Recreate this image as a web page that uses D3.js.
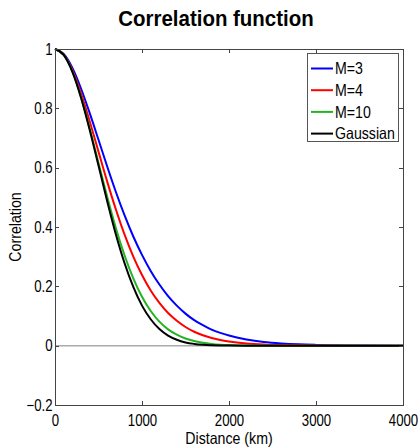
<!DOCTYPE html>
<html>
<head>
<meta charset="utf-8">
<script src="https://cdn.jsdelivr.net/npm/d3@7"></script>
<style>
body { margin:0; background:#fff; }
svg { display:block; }
text { font-family: "Liberation Sans", Arial, sans-serif; fill:#000; }
</style>
</head>
<body>
<svg class="chart" width="420" height="448"></svg>
<script>
// values (distance in km)
var distance = [0,100,200,300,400,500,600,700,800,900,1000,1100,1200,1300,1400,1500,
                1600,1700,1800,1900,2000,2200,2400,2600,2800,3000,3500,4000];
var m3 = [1,0.983,0.936,0.866,0.783,0.694,0.604,0.518,0.439,0.368,0.306,0.252,0.206,0.167,0.135,0.108,
          0.086,0.069,0.054,0.043,0.034,0.021,0.0125,0.0075,0.0044,0.0026,0.0006,0.0001];
var m4 = [1,0.981,0.929,0.850,0.755,0.654,0.553,0.459,0.374,0.300,0.238,0.186,0.144,0.110,0.084,0.063,
          0.047,0.035,0.026,0.019,0.014,0.0074,0.0038,0.0020,0.0010,0.0005,0.0001,0];
var m10 = [1,0.980,0.924,0.837,0.731,0.616,0.502,0.396,0.304,0.227,0.165,0.117,0.081,0.055,0.037,0.024,
           0.016,0.010,0.006,0.0035,0.002,0.0007,0.0002,0,0,0,0,0];
var gaussian = [1,0.980,0.923,0.835,0.726,0.607,0.487,0.375,0.278,0.198,0.135,0.089,0.056,0.034,0.020,0.011,
                0.006,0.003,0.0015,0.0007,0.0003,0,0,0,0,0,0,0];
var seriesNames = ["M=3","M=4","M=10","Gaussian"];
var seriesColors = ["#0000ff","#ff0000","#22b422","#000000"];
var xTicks = [0,1000,2000,3000,4000];
var yTicks = [-0.2,0,0.2,0.4,0.6,0.8,1];
var yTickLabels = ["\u22120.2","0","0.2","0.4","0.6","0.8","1"];

var plot = {left: 55, right: 403, top: 49, bottom: 405};
var chart = d3.select(".chart");

var x = d3.scaleLinear().domain([0,4000]).range([plot.left, plot.right]);
var y = d3.scaleLinear().domain([-0.2,1]).range([plot.bottom, plot.top]);

// zero line
chart.append("line")
    .attr("x1", x(0)).attr("x2", x(4000))
    .attr("y1", y(0)).attr("y2", y(0))
    .attr("stroke", "#aaaaaa")
    .attr("stroke-width", 1.5);

var allSeries = [m3, m4, m10, gaussian];
var line = d3.line()
    .x(function(d, i){ return x(distance[i]); })
    .y(function(d){ return y(d); })
    .curve(d3.curveMonotoneX);

chart.selectAll(".curve")
    .data(allSeries)
    .enter()
    .append("path")
    .attr("class", "curve")
    .attr("d", line)
    .attr("fill", "none")
    .attr("stroke", function(d, i){ return seriesColors[i]; })
    .attr("stroke-width", 2);

// axes, ticks point inwards like matlab
function styleAxis(g){
  g.select(".domain").remove();
  g.selectAll(".tick line").attr("stroke", "#444").attr("shape-rendering", "crispEdges");
}
var xaxis = chart.append("g")
    .attr("transform", "translate(0," + plot.bottom + ")")
    .call(d3.axisBottom(x).tickValues(xTicks).tickSize(-4).tickFormat(d3.format("d")));
styleAxis(xaxis);
xaxis.selectAll("text")
    .attr("y", 21).attr("dy", 0)
    .attr("font-size", "16.5px")
    .attr("font-family", null)
    .attr("transform", "scale(0.8,1)");

var yaxis = chart.append("g")
    .attr("transform", "translate(" + plot.left + ",0)")
    .call(d3.axisLeft(y).tickValues(yTicks).tickSize(-4)
      .tickFormat(function(d, i){ return yTickLabels[i]; }));
styleAxis(yaxis);
yaxis.selectAll("text")
    .attr("x", -3)
    .attr("font-size", "16.5px")
    .attr("font-family", null)
    .attr("transform", "scale(0.8,1)");

var topaxis = chart.append("g")
    .attr("transform", "translate(0," + plot.top + ")")
    .call(d3.axisTop(x).tickValues(xTicks).tickSize(-4).tickFormat(""));
styleAxis(topaxis);
var rightaxis = chart.append("g")
    .attr("transform", "translate(" + plot.right + ",0)")
    .call(d3.axisRight(y).tickValues(yTicks).tickSize(-4).tickFormat(""));
styleAxis(rightaxis);

chart.append("rect")
    .attr("x", plot.left).attr("y", plot.top)
    .attr("width", plot.right - plot.left)
    .attr("height", plot.bottom - plot.top)
    .attr("fill", "none")
    .attr("stroke", "#444")
    .attr("shape-rendering", "crispEdges");

// legend
var legend = chart.append("g");
legend.append("rect")
    .attr("x", 307).attr("y", 53)
    .attr("width", 91).attr("height", 88)
    .attr("fill", "#fff")
    .attr("stroke", "#555")
    .attr("shape-rendering", "crispEdges");
var items = legend.selectAll(".item")
    .data(seriesNames)
    .enter()
    .append("g")
    .attr("transform", function(d, i){ return "translate(311," + (68.5 + i * 21.7) + ")"; });
items.append("line")
    .attr("x1", 0).attr("x2", 22)
    .attr("stroke", function(d, i){ return seriesColors[i]; })
    .attr("stroke-width", 2);
items.append("text")
    .attr("transform", "translate(24,0) scale(0.87,1)")
    .attr("dy", "0.36em")
    .attr("font-size", "16.3px")
    .text(function(d){ return d; });

// title and axis labels
chart.append("text")
    .attr("transform", "translate(216,26) scale(0.93,1)")
    .attr("text-anchor", "middle")
    .attr("font-size", "22px")
    .attr("font-weight", "bold")
    .text("Correlation function");
chart.append("text")
    .attr("transform", "translate(229,444) scale(0.87,1)")
    .attr("text-anchor", "middle")
    .attr("font-size", "16.3px")
    .text("Distance (km)");
chart.append("text")
    .attr("transform", "translate(21,227) rotate(-90) scale(0.87,1)")
    .attr("text-anchor", "middle")
    .attr("font-size", "16.3px")
    .text("Correlation");
</script>
</body>
</html>
